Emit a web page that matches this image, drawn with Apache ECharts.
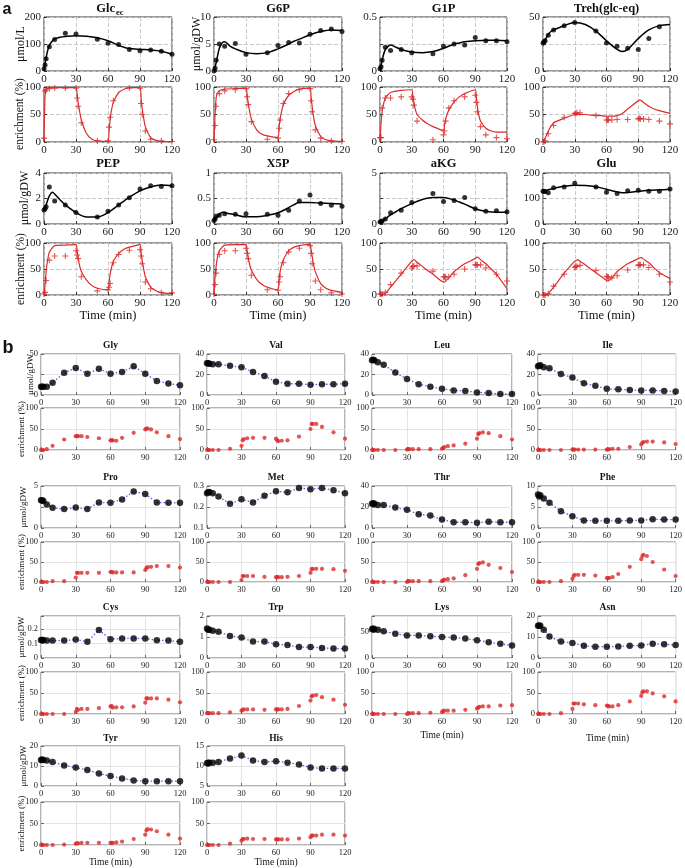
<!DOCTYPE html>
<html><head><meta charset="utf-8">
<script src="https://cdn.jsdelivr.net/npm/echarts@6/dist/echarts.min.js"></script>
<style>html,body{margin:0;padding:0;background:#fff}#c{width:685px;height:868px}</style>
</head><body><div id="c"></div>
<script>
// ---------------- Part a data ----------------
const tConcA = [0,1,2,5,10,20,30,50,60,70,80,90,100,110,120];
const tEnrA  = [0,1,2,5,10,20,30,31,32,35,50,60,61,62,65,70,80,90,91,92,95,100,110,120];
const tConcModelA = [0,2,5,8,10,15,20,30,40,50,60,70,75,80,90,100,110,120];
const tEnrModelA  = [0,1,2,3,5,10,20,30,31,32,33,35,40,45,50,60,61,62,63,65,70,75,80,90,91,92,93,95,100,105,110,120];

const glcConc = [8,22,45,90,117,140,137,118,103,98,80,75,78,73,62];
const g6pConc = [0,0.5,2,5,4.6,5.1,3.1,3.4,4.7,5.3,5.2,6.8,7.5,7.8,7.3];
const g1pConc = [0.02,0.04,0.1,0.22,0.19,0.2,0.17,0.16,0.23,0.25,0.24,0.31,0.28,0.28,0.27];
const trehConc = [26,27,28,33,38,42,45,37,26,23,21,20,30,41,null];
const pepConc = [1.1,1.2,1.35,2.9,1.8,1.5,0.9,0.55,1.0,1.5,2.05,2.75,3.0,2.95,3.0];
const x5pConc = [0.07,0.1,0.15,0.17,0.2,0.19,0.2,0.19,0.17,0.27,0.45,0.57,0.4,0.37,0.35];
const akgConc = [0.2,0.25,0.3,0.5,1.1,1.35,2.1,3.0,2.2,2.3,2.6,1.5,1.25,1.3,1.2];
const gluConc = [128,128,127,123,142,145,160,145,125,120,130,132,128,128,137];

const glcConcModel = [0,50,95,112,118,125,128,131,129,123,112,95,88,83,80,78,73,62];
const g6pConcModel = [0,1.5,4.2,5.3,5.4,4.6,4.1,3.4,3.2,3.4,4.1,5.0,5.5,5.9,6.7,7.3,7.6,7.5];
const g1pConcModel = [0,0.1,0.2,0.23,0.24,0.22,0.2,0.175,0.17,0.18,0.21,0.25,0.26,0.27,0.28,0.285,0.285,0.28];
const trehConcModel = [26,29,34,37,38,40,42,45,43,37,28,20,18,20,30,38,42,43];
const pepConcModel = [1.1,1.5,2.2,2.5,2.35,1.9,1.5,0.9,0.55,0.55,0.9,1.5,1.8,2.1,2.6,2.9,3.05,3.0];
const x5pConcModel = [0.07,0.13,0.19,0.23,0.22,0.2,0.18,0.14,0.14,0.17,0.22,0.32,0.38,0.42,0.42,0.41,0.4,0.39];
const akgConcModel = [0.2,0.3,0.5,0.75,0.9,1.2,1.5,2.0,2.4,2.6,2.6,2.35,2.15,1.95,1.5,1.25,1.15,1.15];
const gluConcModel = [128,130,134,137,139,144,148,152,151,146,136,126,123,124,128,132,134,136];

const glcEnr  = [7,93,95,97,98,98,98,80,65,35,2,2,27,45,75,null,98,98,70,50,20,5,2,1];
const g6pEnr  = [4,30,65,88,93,95,97,82,68,37,5,7,25,40,70,88,95,97,75,55,22,7,2,1];
const g1pEnr  = [8,8,62,80,80,82,82,78,67,38,4,13,20,38,62,75,82,85,72,55,28,13,8,6];
const trehEnr = [0,1,2,15,30,45,52,52,53,53,48,40,40,40,40,41,41,42,43,42,42,41,38,33];
const pepEnr  = [2,5,28,67,75,75,85,77,70,35,8,10,15,22,62,78,86,87,75,60,25,12,5,4];
const x5pEnr  = [2,20,42,78,85,85,90,80,70,38,10,9,25,35,62,83,90,95,80,60,27,10,4,2];
const akgEnr  = [2,2,2,5,20,42,52,55,56,56,46,35,35,34,35,40,50,58,58,58,58,52,40,27];
const gluEnr  = [0,0,0,3,17,40,53,55,55,57,47,36,35,34,33,37,48,57,58,58,58,53,40,25];

const glcEnrModel  = [0,85,95,98,99,99,99,99,88,72,60,40,15,5,2,1,22,40,55,72,90,96,99,99,80,62,48,28,8,3,1,0];
const g6pEnrModel  = [0,50,80,88,93,96,97,98,85,72,60,42,22,14,11,8,28,42,52,68,85,92,96,98,82,65,50,30,10,4,2,1];
const g1pEnrModel  = [0,35,55,66,80,90,94,95,85,72,62,50,40,33,28,21,32,42,48,58,73,82,88,95,82,65,52,38,25,20,18,18];
const trehEnrModel = [0,3,7,11,20,35,43,50,50,50,50,50,50,49,49,47,47,47,47,47,48,52,60,75,76,76,75,72,65,60,57,52];
const pepEnrModel  = [0,20,45,62,82,95,96,97,85,72,60,45,28,18,13,10,25,40,50,65,80,88,92,97,82,68,55,35,15,8,4,3];
const x5pEnrModel  = [0,35,55,70,85,96,97,97,85,73,62,48,30,20,15,10,30,45,55,68,85,92,95,98,88,75,62,45,22,13,9,5];
const akgEnrModel  = [0,0,1,1,3,15,40,65,67,68,67,63,55,47,40,25,25,27,29,33,45,53,60,70,72,73,72,68,60,50,40,12];
const gluEnrModel  = [0,0,1,1,3,15,42,65,66,67,68,65,58,50,43,28,27,27,29,33,45,53,60,70,71,72,72,69,62,52,43,32];

// ---------------- Part b data ----------------
const tConcB = [0,1,2,5,10,20,30,40,50,60,70,80,90,100,110,120];
const tEnrB  = [0,1,2,5,10,20,30,31,32,35,40,50,60,61,62,65,70,80,90,91,92,95,100,110,120];

const glyConc = [10,10,10,10,15,27,33,26,32,26,28,35,26,17,14,12];
const valConc = [31,31,30.5,30,30,28.5,27,22.5,18.5,13,11,11,10,10.5,10.5,11];
const leuConc = [34,34.5,34,32,29.5,22,15.5,10.5,8,6,4.5,4,2.5,2,1,1];
const ileConc = [28,28.5,29,27,26,20.5,17,11.5,9,6,5.5,5,4.5,4.5,4,3.5];
const proConc = [3.3,3.3,3.2,2.8,2.4,2.25,2.45,2.25,3.05,3.0,3.4,4.35,4.05,3.05,3.0,3.0];
const metConc = [0.265,0.27,0.272,0.265,0.25,0.215,0.237,0.222,0.253,0.275,0.27,0.29,0.285,0.29,0.28,0.265];
const thrConc = [23,23.5,23,22,22,19.5,17.5,13,12,8,5.5,5.5,5,6,5.5,5.5];
const pheConc = [8.0,7.5,7.8,7.0,6.0,4.0,2.8,1.8,1.7,1.7,1.7,1.8,1.8,2.1,2.0,2.0];
const cysConc = [0.125,0.125,0.125,0.12,0.12,0.12,0.127,0.113,0.193,0.13,0.135,0.135,0.135,0.122,0.12,0.113];
const trpConc = [1.4,1.35,1.35,1.3,1.25,1.05,0.98,0.78,0.78,0.65,0.62,0.52,0.52,0.48,0.45,0.45];
const lysConc = [55,56,55,54,51,46,43,43,41.5,40,39,37,34,30,27,24];
const asnConc = [15.3,15.5,15.3,13.5,10.2,7.8,7.2,5.8,5.4,5.4,5.5,5.8,6.0,6.8,6.5,6.2];
const tyrConc = [13,13.2,13,12.8,12,10.3,9.2,8,6.2,5,3.8,2.8,2.4,2.4,2.4,2.4];
const hisConc = [10.7,10.8,10.8,10.8,11,11.9,12.6,11.4,11,11.2,10.8,10.4,9.6,9.4,9.4,9.4];

const glyEnr = [0,0,0,2,10,25,33,33,33,33,31,28,23,23,23,22,29,41,49,51,51,49,42,33,26];
const valEnr = [0,0,0,0,0,3,10,23,26,28,29,29,27,23,21,22,23,32,50,62,62,62,55,42,27];
const leuEnr = [0,0,0,0,0,0,1,2,2,2,2,2,3,5,7,9,11,15,27,38,40,42,40,33,25];
const ileEnr = [0,0,0,0,0,0,1,1,1,1,1,1,1,1,2,3,3,7,13,17,19,20,20,18,14];
const proEnr = [0,0,0,0,2,2,11,23,23,23,23,23,25,25,24,24,24,24,30,35,37,38,40,40,36];
const metEnr = [0,0,0,0,0,0,5,15,15,15,15,13,12,12,12,12,13,15,23,32,33,33,33,32,28];
const thrEnr = [0,0,0,0,0,0,0,2,2,2,2,2,2,4,6,7,9,17,33,45,47,49,43,35,25];
const pheEnr = [0,0,0,0,0,2,8,15,18,18,18,16,10,10,10,12,20,38,57,65,68,65,50,31,15];
const cysEnr = [0,0,0,0,0,0,5,12,10,12,12,14,18,19,15,16,16,18,27,37,37,37,37,34,28];
const trpEnr = [2,2,2,2,2,4,8,10,11,11,11,10,11,11,11,11,12,19,32,42,44,45,40,34,22];
const lysEnr = [0,0,0,0,0,0,0,1,2,2,2,3,5,7,8,8,8,10,13,15,17,18,18,20,21];
const asnEnr = [0,0,0,0,0,2,12,25,25,25,23,21,20,19,18,18,21,30,43,52,54,54,49,42,30];
const tyrEnr = [0,0,0,0,0,1,3,4,4,5,5,5,5,5,5,6,8,14,24,34,37,36,32,24,15];
const hisEnr = [0,0,0,0,0,3,10,14,14,15,14,14,13,13,13,13,13,15,18,22,22,22,24,24,22];

const timeTicks = [0,30,60,90,120];

// ---------------- chart construction ----------------
const SERIF = 'Liberation Serif';
const RED = '#dc2b2b';
const grid=[], xAxis=[], yAxis=[], series=[], graphic=[];

function pairs(t,v){const o=[];for(let i=0;i<t.length;i++){if(v[i]!=null)o.push([t[i],v[i]]);}return o;}
function fmtNum(v){return String(parseFloat(Number(v).toFixed(4)));}

function panel(box, st, y){
  const gi = grid.length;
  grid.push({left:box[0], top:box[1], width:box[2]-box[0], height:box[3]-box[1], show:true,
    borderColor:st.border, borderWidth:1, backgroundColor:'#fff'});
  xAxis.push({type:'value', gridIndex:gi, min:timeTicks[0], max:timeTicks[timeTicks.length-1], interval:timeTicks[1]-timeTicks[0],
    axisLine:{show:false}, axisTick:{show:true, inside:true, length:3, lineStyle:{color:st.border}},
    axisLabel:{fontFamily:SERIF, fontSize:st.fs, color:'#222', margin:st.xm},
    splitLine:{show:true, lineStyle:{color:st.gridColor, type:st.gridType, width:1}}});
  const labels = y.labels;
  yAxis.push({type:'value', gridIndex:gi, min:y.min, max:y.max, interval:y.int,
    axisLine:{show:false}, axisTick:{show:true, inside:true, length:3, lineStyle:{color:st.border}},
    axisLabel:{fontFamily:SERIF, fontSize:st.fs, color:'#222', margin:st.ym,
      formatter:v=>(!labels || labels.some(l=>Math.abs(l-v)<1e-9)) ? fmtNum(v) : ''},
    splitLine:{show:true, lineStyle:{color:st.gridColor, type:st.gridType, width:1}}});
  return gi;
}
function txt(x,y,text,font,rot,rich){
  graphic.push({type:'text', x:x, y:y, rotation:rot||0, silent:true, z:100,
    style:{text:text, font:font, fill:'#111', textAlign:'center', textVerticalAlign:'middle', rich:rich}});
}

const stA = {border:'#333', gridColor:'#c8c8c8', gridType:'dashed', fs:11, xm:3, ym:3};
const stB = {border:'#6a6a6a', gridColor:'#e4e4e4', gridType:'solid', fs:8.5, xm:3, ym:3};
const PLUS = 'path://M5,0L5,10M0,5L10,5';

function addAConc(gi, v, vm){
  series.push({type:'line', xAxisIndex:gi, yAxisIndex:gi, data:pairs(tConcModelA, vm), smooth:0.35, showSymbol:false,
    lineStyle:{color:'#000', width:1.5}, silent:true});
  series.push({type:'scatter', xAxisIndex:gi, yAxisIndex:gi, data:pairs(tConcA, v), symbol:'circle', symbolSize:5,
    itemStyle:{color:'#000'}, silent:true});
}
function addAEnr(gi, v, vm){
  series.push({type:'line', xAxisIndex:gi, yAxisIndex:gi, data:pairs(tEnrModelA, vm), smooth:0.2, showSymbol:false,
    lineStyle:{color:RED, width:1.2}, silent:true});
  series.push({type:'scatter', xAxisIndex:gi, yAxisIndex:gi, data:pairs(tEnrA, v), symbol:PLUS, symbolSize:6,
    itemStyle:{color:RED, borderColor:RED, borderWidth:1.1}, silent:true});
}
function addBConc(gi, v){
  series.push({type:'line', xAxisIndex:gi, yAxisIndex:gi, data:pairs(tConcB, v), showSymbol:false,
    lineStyle:{color:'#5a5af0', type:[1.5,2], width:1.3}, silent:true, z:2});
  series.push({type:'scatter', xAxisIndex:gi, yAxisIndex:gi, data:pairs(tConcB, v), symbol:'circle', symbolSize:6.5,
    itemStyle:{color:'#000'}, silent:true, z:3});
}
function addBEnr(gi, v){
  series.push({type:'scatter', xAxisIndex:gi, yAxisIndex:gi, data:pairs(tEnrB, v), symbol:'circle', symbolSize:4.2,
    itemStyle:{color:RED}, silent:true});
}

// Part a layout
const colsA = [[44,172],[214,342],[380,507],[543,670]];
const rowsA = [[17,71],[87,142],[173,224],[243,295]];
const enrY = {min:0, max:100, int:50};
const partA = [
  {name:'Glc', sub:'ec', r:0, c:0, conc:glcConc, cm:glcConcModel, enr:glcEnr, em:glcEnrModel, y:{min:0,max:200,int:100}},
  {name:'G6P', r:0, c:1, conc:g6pConc, cm:g6pConcModel, enr:g6pEnr, em:g6pEnrModel, y:{min:0,max:10,int:5}},
  {name:'G1P', r:0, c:2, conc:g1pConc, cm:g1pConcModel, enr:g1pEnr, em:g1pEnrModel, y:{min:0,max:0.5,int:0.25,labels:[0,0.5]}},
  {name:'Treh(glc-eq)', r:0, c:3, conc:trehConc, cm:trehConcModel, enr:trehEnr, em:trehEnrModel, y:{min:0,max:50,int:25,labels:[0,50]}},
  {name:'PEP', r:1, c:0, conc:pepConc, cm:pepConcModel, enr:pepEnr, em:pepEnrModel, y:{min:0,max:4,int:2}},
  {name:'X5P', r:1, c:1, conc:x5pConc, cm:x5pConcModel, enr:x5pEnr, em:x5pEnrModel, y:{min:0,max:1,int:0.5}},
  {name:'aKG', r:1, c:2, conc:akgConc, cm:akgConcModel, enr:akgEnr, em:akgEnrModel, y:{min:0,max:5,int:2.5,labels:[0,5]}},
  {name:'Glu', r:1, c:3, conc:gluConc, cm:gluConcModel, enr:gluEnr, em:gluEnrModel, y:{min:0,max:200,int:100}}
];
partA.forEach(p=>{
  const cx = colsA[p.c], rc = rowsA[p.r*2], re = rowsA[p.r*2+1];
  const g1 = panel([cx[0],rc[0],cx[1],rc[1]], stA, p.y);
  addAConc(g1, p.conc, p.cm);
  const g2 = panel([cx[0],re[0],cx[1],re[1]], stA, enrY);
  addAEnr(g2, p.enr, p.em);
  const mid = (cx[0]+cx[1])/2;
  const ty = p.r===0 ? 9 : 164;
  if(p.sub){
    txt(mid+2, ty, '{a|'+p.name+'}{b|'+p.sub+'}', '', 0,
      {a:{fontFamily:SERIF, fontWeight:'bold', fontSize:12.5, fill:'#111'},
       b:{fontFamily:SERIF, fontWeight:'bold', fontSize:8.5, fill:'#111', padding:[8,0,0,1]}});
  } else {
    txt(mid, ty, p.name, 'bold 12.5px "Liberation Serif"');
  }
  if(p.r===1) txt(mid, 316, 'Time (min)', '12.5px "Liberation Serif"');
});
txt(21, 44, 'μmol/L', '12px "Liberation Serif"', Math.PI/2);
txt(197, 44, 'μmol/gDW', '12px "Liberation Serif"', Math.PI/2);
txt(20, 114, 'enrichment (%)', '11.5px "Liberation Serif"', Math.PI/2);
txt(25, 198, 'μmol/gDW', '12px "Liberation Serif"', Math.PI/2);
txt(21, 269, 'enrichment (%)', '11.5px "Liberation Serif"', Math.PI/2);
txt(7, 10, 'a', 'bold 16px "Liberation Sans"');

// Part b layout
const colsB = [[41,180],[207,345],[372,512],[538,677]];
const rowsB = [[[354,395],[408,450]],[[486,528],[542,582]],[[616,658],[672,714]],[[746,786],[802,845]]];
const titleYB = [346, 478, 608, 739];
const partB = [
  {name:'Gly', r:0, c:0, conc:glyConc, enr:glyEnr, y:{min:0,max:50,int:25,labels:[0,50]}},
  {name:'Val', r:0, c:1, conc:valConc, enr:valEnr, y:{min:0,max:40,int:20}},
  {name:'Leu', r:0, c:2, conc:leuConc, enr:leuEnr, y:{min:0,max:40,int:20}},
  {name:'Ile', r:0, c:3, conc:ileConc, enr:ileEnr, y:{min:0,max:40,int:20}},
  {name:'Pro', r:1, c:0, conc:proConc, enr:proEnr, y:{min:0,max:5,int:2.5,labels:[0,5]}},
  {name:'Met', r:1, c:1, conc:metConc, enr:metEnr, y:{min:0.1,max:0.3,int:0.1}},
  {name:'Thr', r:1, c:2, conc:thrConc, enr:thrEnr, y:{min:0,max:40,int:20}},
  {name:'Phe', r:1, c:3, conc:pheConc, enr:pheEnr, y:{min:0,max:10,int:5}},
  {name:'Cys', r:2, c:0, conc:cysConc, enr:cysEnr, y:{min:0,max:0.29,int:0.1,labels:[0,0.1,0.2]}},
  {name:'Trp', r:2, c:1, conc:trpConc, enr:trpEnr, y:{min:0,max:2,int:1}},
  {name:'Lys', r:2, c:2, conc:lysConc, enr:lysEnr, y:{min:0,max:80,int:50,labels:[0,50]}, time:735},
  {name:'Asn', r:2, c:3, conc:asnConc, enr:asnEnr, y:{min:0,max:20,int:10}, time:738},
  {name:'Tyr', r:3, c:0, conc:tyrConc, enr:tyrEnr, y:{min:0,max:20,int:10}, time:862},
  {name:'His', r:3, c:1, conc:hisConc, enr:hisEnr, y:{min:5,max:15,int:5}, time:862}
];
const nameXB = [31, 24, 22, 24];
partB.forEach(p=>{
  const cx = colsB[p.c], rr = rowsB[p.r];
  const g1 = panel([cx[0],rr[0][0],cx[1],rr[0][1]], stB, p.y);
  addBConc(g1, p.conc);
  const g2 = panel([cx[0],rr[1][0],cx[1],rr[1][1]], stB, enrY);
  addBEnr(g2, p.enr);
  const mid = (cx[0]+cx[1])/2;
  txt(mid, titleYB[p.r], p.name, 'bold 9.5px "Liberation Serif"');
  if(p.time) txt(mid, p.time, 'Time (min)', '9.5px "Liberation Serif"');
  if(p.c===0){
    txt(nameXB[p.r], (rr[0][0]+rr[0][1])/2, 'μmol/gDW', '9px "Liberation Serif"', Math.PI/2);
    txt(22, (rr[1][0]+rr[1][1])/2, 'enrichment (%)', '9px "Liberation Serif"', Math.PI/2);
  }
});
txt(8, 348, 'b', 'bold 18px "Liberation Sans"');

const chart = echarts.init(document.getElementById('c'), null, {renderer:'canvas'});
chart.setOption({animation:false, backgroundColor:'#fff', grid:grid, xAxis:xAxis, yAxis:yAxis, series:series, graphic:graphic});
</script></body></html>
